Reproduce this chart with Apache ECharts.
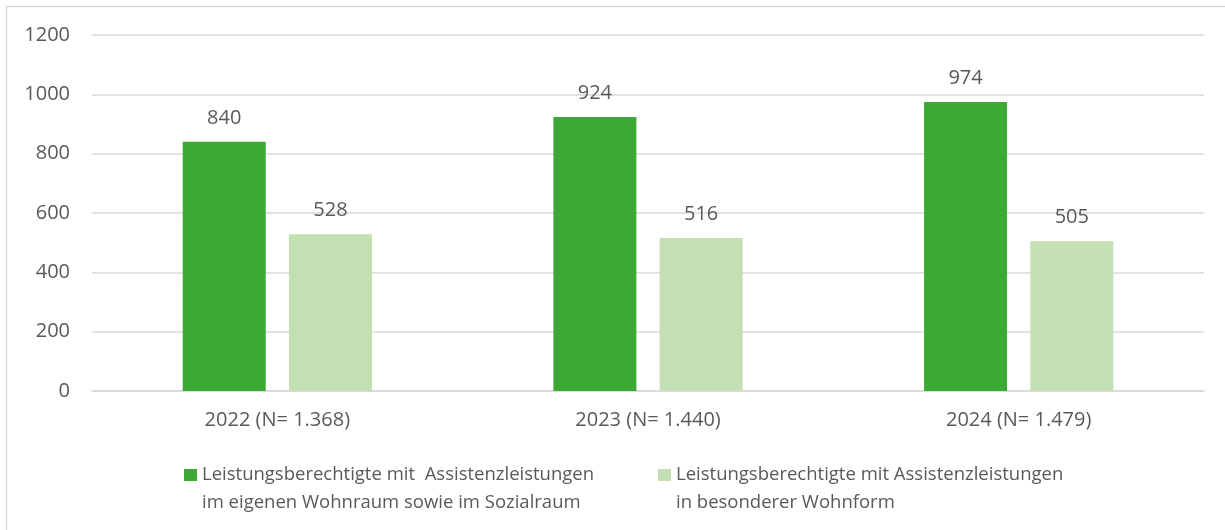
<!DOCTYPE html>
<html>
<head>
<meta charset="utf-8">
<script src="https://cdn.jsdelivr.net/npm/echarts@6/dist/echarts.min.js"></script>
<style>
html,body{margin:0;padding:0;background:#fff;}
#c{width:1225px;height:530px;}
</style>
</head>
<body>
<div id="c"></div>
<script>
const categories = ['2022 (N= 1.368)', '2023 (N= 1.440)', '2024 (N= 1.479)'];
const seriesNames = [
  'Leistungsberechtigte mit  Assistenzleistungen\nim eigenen Wohnraum sowie im Sozialraum',
  'Leistungsberechtigte mit Assistenzleistungen\nin besonderer Wohnform'
];
const eigenerWohnraum = [840, 924, 974];
const besondereWohnform = [528, 516, 505];
const yTicks = [0, 200, 400, 600, 800, 1000, 1200];

const FONT = '"Open Sans", "Noto Sans", sans-serif';
const TXT = '#595959';
const chart = echarts.init(document.getElementById('c'), null, {renderer: 'canvas'});
const legendText = {color: TXT, fontFamily: FONT, fontSize: 18.5, lineHeight: 28};
const legendCommon = {
  top: 433, itemWidth: 13, itemHeight: 12, icon: 'rect', padding: 0,
  textStyle: legendText, formatter: n => '\n' + n
};
const labelStyle = {show: true, position: 'top', distance: 14, color: TXT, fontFamily: FONT, fontSize: 20};
chart.setOption({
  animation: false,
  backgroundColor: '#fff',
  graphic: [{
    type: 'polyline',
    shape: {points: [[6.5, 540], [6.5, 6.5], [1230, 6.5]]},
    style: {stroke: '#d9d9d9', lineWidth: 1.5, fill: null},
    silent: true
  }],
  grid: {left: 92, right: 21, top: 35, bottom: 139},
  legend: [
    Object.assign({data: [seriesNames[0]], left: 184}, legendCommon),
    Object.assign({data: [seriesNames[1]], left: 658}, legendCommon)
  ],
  xAxis: {
    type: 'category', data: categories,
    axisLine: {show: true, lineStyle: {color: '#d9d9d9', width: 1.5}},
    axisTick: {show: false},
    axisLabel: {color: TXT, fontFamily: FONT, fontSize: 20, margin: 19}
  },
  yAxis: {
    type: 'value', min: yTicks[0], max: yTicks[yTicks.length - 1], interval: 200,
    axisLine: {show: false}, axisTick: {show: false},
    splitLine: {lineStyle: {color: '#d9d9d9', width: 1.5}},
    axisLabel: {color: TXT, fontFamily: FONT, fontSize: 20, margin: 22, formatter: v => String(v)}
  },
  series: [
    {
      name: seriesNames[0], type: 'bar', data: eigenerWohnraum,
      barWidth: 83, barGap: '28%',
      itemStyle: {color: '#3DA935'},
      label: labelStyle
    },
    {
      name: seriesNames[1], type: 'bar', data: besondereWohnform,
      barWidth: 83,
      itemStyle: {color: '#C4DFB2'},
      label: labelStyle
    }
  ]
});
</script>
</body>
</html>
